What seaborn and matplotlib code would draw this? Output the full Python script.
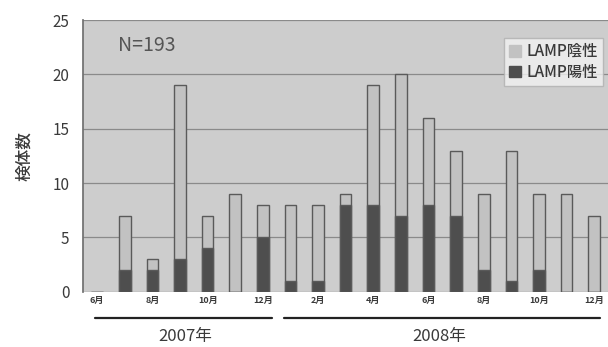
"""Monthly specimen counts, LAMP negative vs positive, stacked bars."""

import matplotlib
matplotlib.use("Agg")
import matplotlib.pyplot as plt
import matplotlib.transforms as mtransforms
from matplotlib.patches import Patch
import pandas as pd
import seaborn as sns

# 2007-06 .. 2008-12
months = ["6月", "7月", "8月", "9月", "10月", "11月", "12月",
          "1月", "2月", "3月", "4月", "5月", "6月", "7月", "8月",
          "9月", "10月", "11月", "12月"]
years = ["2007"] * 7 + ["2008"] * 12
totals = [0, 7, 3, 19, 7, 9, 8, 8, 8, 9, 19, 20, 16, 13, 9, 13, 9, 9, 7]
positives = [0, 2, 2, 3, 4, 0, 5, 1, 1, 8, 8, 7, 8, 7, 2, 1, 2, 0, 0]
tick_labels = ["6月", "", "8月", "", "10月", "", "12月", "", "2月", "",
               "4月", "", "6月", "", "8月", "", "10月", "", "12月"]
year_labels = ["2007年", "2008年"]
n_total = 193

sns.set_theme(style="white")
plt.rcParams["font.family"] = ["Noto Sans CJK JP", "DejaVu Sans"]

df = pd.DataFrame({
    "slot": [f"{y}-{i:02d}" for i, y in enumerate(years)],
    "total": totals,
    "positive": positives,
})

NEG = "#c2c2c2"
POS = "#4e4e4e"
EDGE = "#5a5a5a"
TXT = "#3a3a3a"

fig = plt.figure(figsize=(6.08, 3.47), dpi=100)
ax = fig.add_axes([0.137, 0.159, 0.863, 0.783])
ax.set_facecolor("#cdcdcd")

sns.barplot(data=df, x="slot", y="total", order=df["slot"], color=NEG,
            saturation=1, width=0.42, edgecolor=EDGE, linewidth=1.0, ax=ax)
sns.barplot(data=df, x="slot", y="positive", order=df["slot"], color=POS,
            saturation=1, width=0.42, edgecolor=EDGE, linewidth=1.0, ax=ax)

ax.set_ylim(0, 25)
ax.set_xlim(-0.5, len(months) - 0.5)
ax.set_yticks(range(0, 26, 5))
ax.yaxis.grid(True, color="#8a8a8a", linewidth=0.9)
ax.set_axisbelow(True)
for s in ["top", "right", "bottom"]:
    ax.spines[s].set_visible(False)
ax.spines["left"].set_color("#707070")

ax.set_xticks(range(len(months)))
ax.set_xticklabels(tick_labels, fontsize=6.5, fontweight="bold", color=TXT)
ax.tick_params(axis="x", length=0, pad=3)
ax.tick_params(axis="y", length=0, pad=10, labelsize=11, labelcolor=TXT)
ax.set_xlabel("")
ax.set_ylabel("検体数", fontsize=12, color=TXT, labelpad=14, fontweight="medium")

ax.text(0.12, 0.905, f"N={n_total}", transform=ax.transAxes, fontsize=14,
        color="#555555", ha="center", va="center")

# year brackets under the axis
trans = mtransforms.blended_transform_factory(ax.transData, ax.transAxes)
ax.plot([-0.07, 6.35], [-0.096, -0.096], transform=trans, clip_on=False,
        color="#222222", linewidth=1.6)
ax.plot([6.75, 18.2], [-0.096, -0.096], transform=trans, clip_on=False,
        color="#222222", linewidth=1.6)
ax.text(3.2, -0.165, year_labels[0], transform=trans, ha="center",
        va="center", fontsize=12, color=TXT)
ax.text(12.4, -0.165, year_labels[1], transform=trans, ha="center",
        va="center", fontsize=12, color=TXT)

handles = [Patch(facecolor=NEG, edgecolor=NEG), Patch(facecolor=POS, edgecolor=POS)]
leg = ax.legend(handles, ["LAMP陰性", "LAMP陽性"], loc="upper right",
                bbox_to_anchor=(0.99, 0.935), fontsize=11, frameon=True,
                fancybox=False, handlelength=0.8, handleheight=0.8,
                handletextpad=0.3, borderpad=0.35, labelspacing=0.25,
                borderaxespad=0, prop={"size": 11, "weight": "medium"})
leg.get_frame().set_facecolor("#f2f2f2")
leg.get_frame().set_edgecolor("#b0b0b0")
for t in leg.get_texts():
    t.set_color(TXT)

fig.savefig("out.png", dpi=100)
